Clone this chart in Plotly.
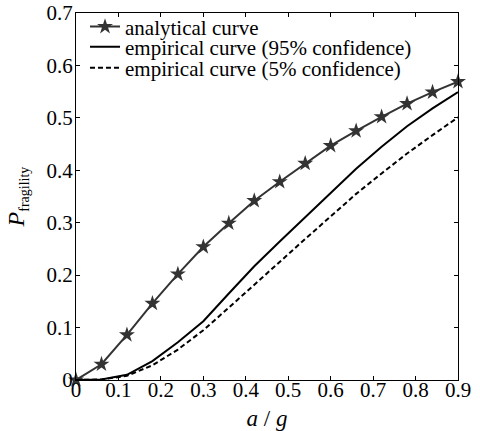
import plotly.graph_objects as go

x_vals = [0, 0.06, 0.12, 0.18, 0.24, 0.30, 0.36, 0.42, 0.48, 0.54, 0.60, 0.66, 0.72, 0.78, 0.84, 0.90]
analytical = [0, 0.030, 0.086, 0.146, 0.202, 0.254, 0.299, 0.342, 0.378, 0.413, 0.447, 0.475, 0.502, 0.527, 0.549, 0.569]
emp95 = [0, 0.001, 0.010, 0.036, 0.072, 0.112, 0.165, 0.217, 0.264, 0.310, 0.357, 0.403, 0.445, 0.484, 0.518, 0.549]
emp5 = [0, 0.001, 0.008, 0.028, 0.058, 0.095, 0.138, 0.182, 0.226, 0.269, 0.312, 0.355, 0.394, 0.432, 0.467, 0.501]

names = ["analytical curve", "empirical curve (95% confidence)", "empirical curve (5% confidence)"]
x_ticks = [0, 0.1, 0.2, 0.3, 0.4, 0.5, 0.6, 0.7, 0.8, 0.9]
y_ticks = [0, 0.1, 0.2, 0.3, 0.4, 0.5, 0.6, 0.7]

FONT = "Liberation Serif"

fig = go.Figure()
fig.add_trace(go.Scatter(x=x_vals, y=analytical, name=names[0], mode="lines+markers",
                         line=dict(color="#333333", width=2),
                         marker=dict(symbol="star", size=12, color="#333333"),
                         cliponaxis=False, legend="legend", showlegend=True))
fig.add_trace(go.Scatter(x=x_vals, y=emp95, name=names[1], mode="lines",
                         line=dict(color="black", width=2), legend="legend2", showlegend=True))
fig.add_trace(go.Scatter(x=x_vals, y=emp5, name=names[2], mode="lines",
                         line=dict(color="black", width=2, dash="5px,3px"), legend="legend3",
                         showlegend=True))

axis_common = dict(showgrid=False, zeroline=False, showline=True, linecolor="black", linewidth=1,
                   mirror="ticks", ticks="inside", ticklen=4, tickcolor="black", automargin=False,
                   tickfont=dict(family=FONT, size=21, color="black"))

leg_common = dict(xanchor="left", yanchor="middle", bgcolor="rgba(0,0,0,0)",
                  font=dict(family=FONT, size=21, color="black"), itemwidth=30,
                  borderwidth=0, visible=True)

fig.update_layout(
    width=480, height=431,
    margin=dict(l=76, r=22, t=13, b=51, autoexpand=False),
    paper_bgcolor="white", plot_bgcolor="white",
    showlegend=True,
    font=dict(family=FONT, size=21, color="black"),
    xaxis=dict(range=[0, 0.9], tickvals=x_ticks, ticktext=[f"{v:g}" for v in x_ticks],
               ticklabelstandoff=-9,
               title=dict(text="<i>a</i> / <i>g</i>", font=dict(family=FONT, size=23)),
               **axis_common),
    yaxis=dict(range=[0, 0.7], tickvals=y_ticks, ticktext=[f"{v:g}" for v in y_ticks],
               ticklabelstandoff=-2,
               title=dict(text="<i>P</i><sub><span style=\"font-size:14px\">fragility</span></sub>",
                          font=dict(family=FONT, size=24)),
               **axis_common),
    legend=dict(x=0.0236, y=0.962, **leg_common),
    legend2=dict(x=0.0236, y=0.907, **leg_common),
    legend3=dict(x=0.0236, y=0.850, **leg_common),
)

fig.write_html("out.html")
